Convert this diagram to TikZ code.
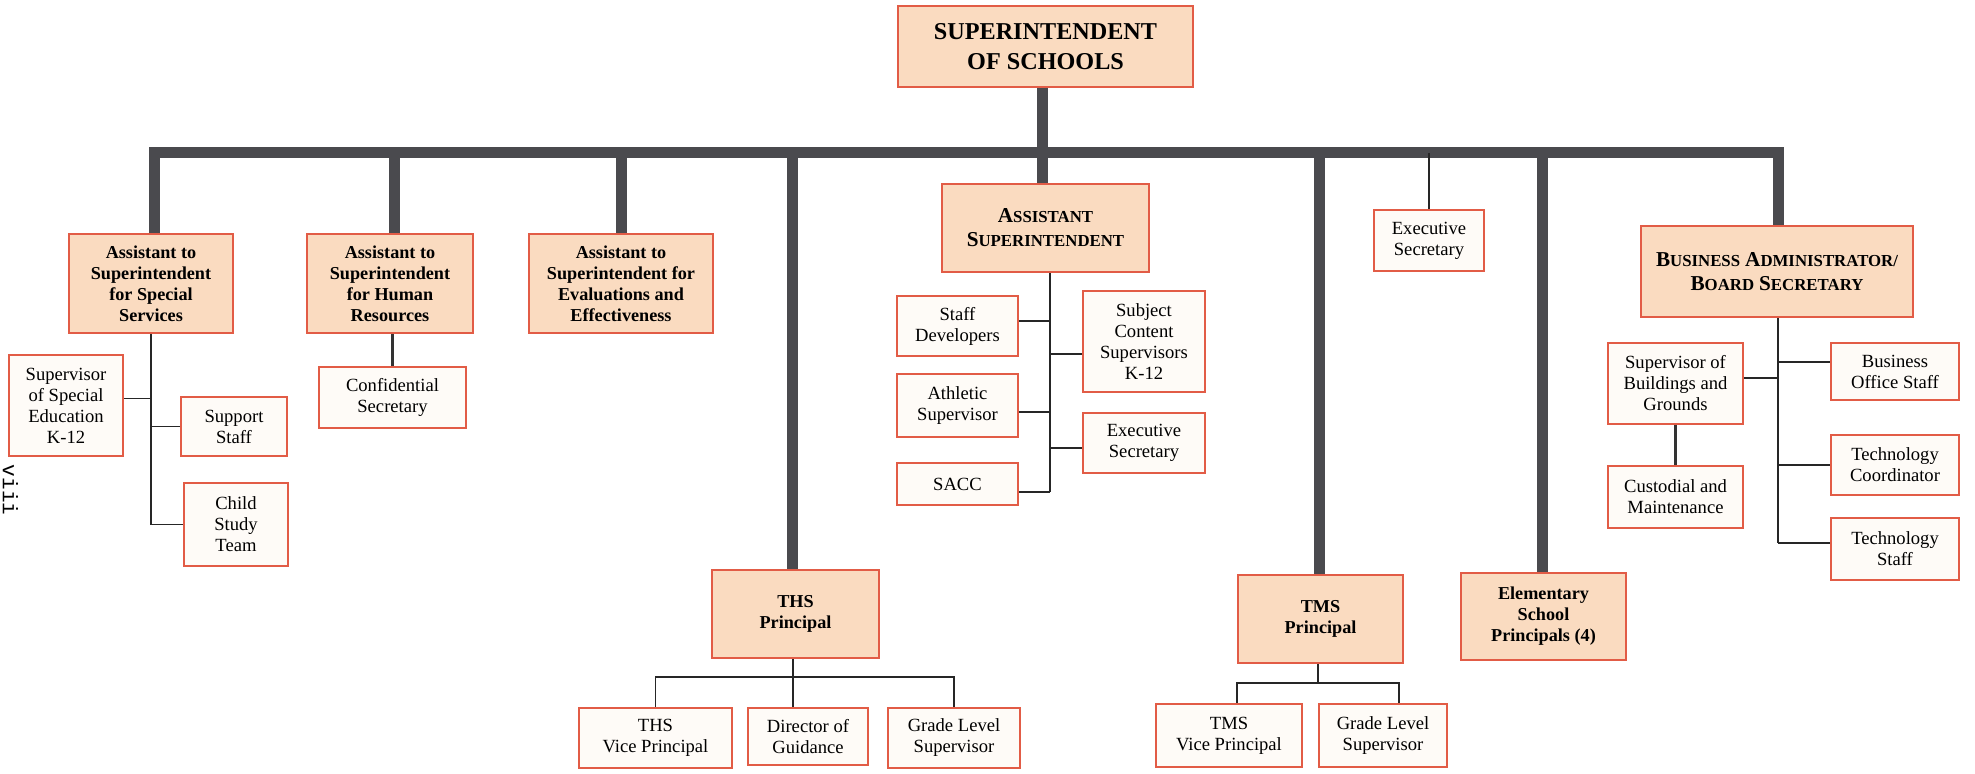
\documentclass[tikz,border=0pt]{standalone}
\usepackage{fontspec}
\setmainfont{Liberation Serif}
\newfontfamily\pagemono{Liberation Mono}
\usetikzlibrary{backgrounds}
\definecolor{bord}{RGB}{226,92,70}
\definecolor{peach}{RGB}{250,219,192}
\definecolor{pale}{RGB}{254,251,247}
\definecolor{trunkc}{RGB}{74,74,78}
\newcommand{\bigsm}[2]{{\fontsize{10.6}{13.5}\selectfont #1}{\fontsize{8.4}{13.5}\selectfont #2}}
\begin{document}
\begin{tikzpicture}[x=0.5pt,y=-0.5pt,
  mainbox/.style={draw=bord, fill=peach, line width=1pt, inner sep=0pt, outer sep=0pt, align=center, font=\bfseries\fontsize{9.1}{10.5}\selectfont},
  subbox/.style={draw=bord, fill=pale, line width=1pt, inner sep=0pt, outer sep=0pt, align=center, font=\fontsize{9.3}{10.5}\selectfont},
  wh/.style 2 args={minimum width=#1, minimum height=#2},
  trunk/.style={draw=trunkc, line width=5.5pt},
  thinline/.style={draw=black!85, line width=0.9pt},
  midline/.style={draw=black!80, line width=1.4pt}]
\useasboundingbox (0,0) rectangle (1975,773);

% top
\node[mainbox, wh={147.5pt}{40.5pt}, font=\bfseries\fontsize{12.1}{15}\selectfont] (sup) at (1045.5,46.5) {SUPERINTENDENT\\OF SCHOOLS};

% second level
\node[mainbox, wh={82pt}{49.5pt}] (ss) at (151,283.5) {Assistant to\\Superintendent\\for Special\\Services};
\node[mainbox, wh={83pt}{49.5pt}] (hr) at (390,283.5) {Assistant to\\Superintendent\\for Human\\Resources};
\node[mainbox, wh={92pt}{49.5pt}] (ev) at (621,283.5) {Assistant to\\Superintendent for\\Evaluations and\\Effectiveness};
\node[mainbox, wh={103.5pt}{44pt}, font=\bfseries] (as) at (1045.5,228) {\bigsm{A}{SSISTANT}\\\bigsm{S}{UPERINTENDENT}};
\node[subbox, wh={55pt}{30.5pt}] (es1) at (1429,240.5) {Executive\\Secretary};
\node[mainbox, wh={136pt}{45.5pt}, font=\bfseries] (ba) at (1777,271.5) {\bigsm{B}{USINESS} \bigsm{A}{DMINISTRATOR/}\\\bigsm{B}{OARD} \bigsm{S}{ECRETARY}};
\node[mainbox, wh={83.5pt}{44pt}] (ths) at (795.5,614) {THS\\Principal};
\node[mainbox, wh={82.5pt}{44pt}] (tms) at (1320.5,619) {TMS\\Principal};
\node[mainbox, wh={82.5pt}{43.5pt}] (el) at (1543.5,616.5) {Elementary\\School\\Principals (4)};

% special services
\node[subbox, wh={57pt}{50.5pt}] (sse) at (66,405.5) {Supervisor\\of Special\\Education\\K-12};
\node[subbox, wh={53pt}{29.5pt}] (sst) at (234,426.5) {Support\\Staff};
\node[subbox, wh={52pt}{41.5pt}] (cst) at (236,524.5) {Child\\Study\\Team};
% HR
\node[subbox, wh={73.5pt}{30.5pt}] (conf) at (392.5,397.5) {Confidential\\Secretary};
% assistant superintendent
\node[subbox, wh={60.5pt}{30pt}] (sd) at (957.5,326) {Staff\\Developers};
\node[subbox, wh={60.5pt}{31.5pt}] (ath) at (957.5,405.5) {Athletic\\Supervisor};
\node[subbox, wh={60.5pt}{21pt}] (sacc) at (957.5,484) {SACC};
\node[subbox, wh={61pt}{50.5pt}] (scs) at (1144,341.5) {Subject\\Content\\Supervisors\\K-12};
\node[subbox, wh={61pt}{30pt}] (es2) at (1144,443) {Executive\\Secretary};
% business
\node[subbox, wh={67.5pt}{40.5pt}] (sbg) at (1675.5,383.5) {Supervisor of\\Buildings and\\Grounds};
\node[subbox, wh={67.5pt}{31pt}] (cm) at (1675.5,497) {Custodial and\\Maintenance};
\node[subbox, wh={64pt}{28.5pt}] (bos) at (1895,371.5) {Business\\Office Staff};
\node[subbox, wh={64pt}{30pt}] (tc) at (1895,465) {Technology\\Coordinator};
\node[subbox, wh={64pt}{31pt}] (ts) at (1895,549) {Technology\\Staff};
% THS
\node[subbox, wh={76.5pt}{30pt}] (thsvp) at (655.5,738) {THS\\Vice Principal};
\node[subbox, wh={60pt}{28.5pt}] (dg) at (808,736.5) {Director of\\Guidance};
\node[subbox, wh={66pt}{30pt}] (thsgl) at (954,738) {Grade Level\\Supervisor};
% TMS
\node[subbox, wh={73pt}{31.5pt}] (tmsvp) at (1229,735.5) {TMS\\Vice Principal};
\node[subbox, wh={64pt}{31.5pt}] (tmsgl) at (1383,735.5) {Grade Level\\Supervisor};

% page number
\node[rotate=-90, anchor=base, inner sep=0pt, font=\pagemono\fontsize{10.5}{10.5}\selectfont] (pg) at (3,490) {viii};

% bar coordinates
\coordinate (b1) at (154,152.5);
\coordinate (b2) at (394,152.5);
\coordinate (b3) at (621,152.5);
\coordinate (b4) at (792,152.5);
\coordinate (b5) at (1042,152.5);
\coordinate (b6) at (1319,152.5);
\coordinate (b7) at (1542,152.5);
\coordinate (b8) at (1778,152.5);
\coordinate (thsbus) at (793,677);
\coordinate (tmsbusL) at (1237,683);
\coordinate (tmsbusR) at (1399,683);
\coordinate (tmsdrop) at (1318,683);
% connector junctions
\coordinate (ssej) at ([yshift=3.5pt]sse.east);
\coordinate (sdj) at ([yshift=2.5pt]sd.east);
\coordinate (athj) at ([yshift=-3.25pt]ath.east);
\coordinate (saccj) at ([yshift=-4pt]sacc.east);
\coordinate (scsj) at ([yshift=-6.25pt]scs.west);
\coordinate (es2j) at ([yshift=-2.5pt]es2.west);
\coordinate (sbgj) at ([yshift=2.75pt]sbg.east);
\coordinate (bosj) at ([yshift=4.75pt]bos.west);
\coordinate (tsj) at ([yshift=3pt]ts.west);
\coordinate (asv) at ([xshift=2.25pt]as.south);
\coordinate (bav) at (ba.south -| b8);

\begin{scope}[on background layer]
\draw[trunk, line cap=rect] (b1) -- (b8);
\draw[trunk] (b5 |- sup.south) -- (b5 |- as.north);
\draw[trunk] (b1) -- (b1 |- ss.north);
\draw[trunk] (b2) -- (b2 |- hr.north);
\draw[trunk] (b3) -- (b3 |- ev.north);
\draw[trunk] (b4) -- (b4 |- ths.north);
\draw[trunk] (b6) -- (b6 |- tms.north);
\draw[trunk] (b7) -- (b7 |- el.north);
\draw[trunk] (b8) -- (b8 |- ba.north);
\draw[thinline] (es1.north) -- (es1.north |- b1);

% special services
\draw[thinline] (ss.south) -- (ss.south |- cst.west);
\draw[thinline] (ssej) -- (ssej -| ss.south);
\draw[thinline] (sst.west) -- (sst.west -| ss.south);
\draw[thinline] (cst.west) -- (cst.west -| ss.south);
% HR
\draw[midline] (conf.north) -- (conf.north |- hr.south);
% assistant superintendent
\draw[thinline] (asv) -- (asv |- saccj);
\draw[thinline] (sdj) -- (sdj -| asv);
\draw[thinline] (athj) -- (athj -| asv);
\draw[thinline] (saccj) -- (saccj -| asv);
\draw[thinline] (scsj) -- (scsj -| asv);
\draw[thinline] (es2j) -- (es2j -| asv);
% business
\draw[thinline] (bav) -- (bav |- tsj);
\draw[thinline] (sbgj) -- (sbgj -| bav);
\draw[thinline] (bosj) -- (bosj -| bav);
\draw[thinline] (tc.west) -- (tc.west -| bav);
\draw[thinline] (tsj) -- (tsj -| bav);
\draw[midline] (sbg.south) -- (cm.north);
% THS
\draw[thinline] (ths.south -| thsbus) -- (thsbus |- dg.north);
\draw[thinline] (thsvp.north) |- (thsbus) -| (thsgl.north);
% TMS
\draw[thinline] (tms.south -| tmsdrop) -- (tmsdrop);
\draw[thinline] (tmsbusL |- tmsvp.north) -- (tmsbusL) -- (tmsbusR) -- (tmsbusR |- tmsgl.north);
\end{scope}
\end{tikzpicture}
\end{document}
